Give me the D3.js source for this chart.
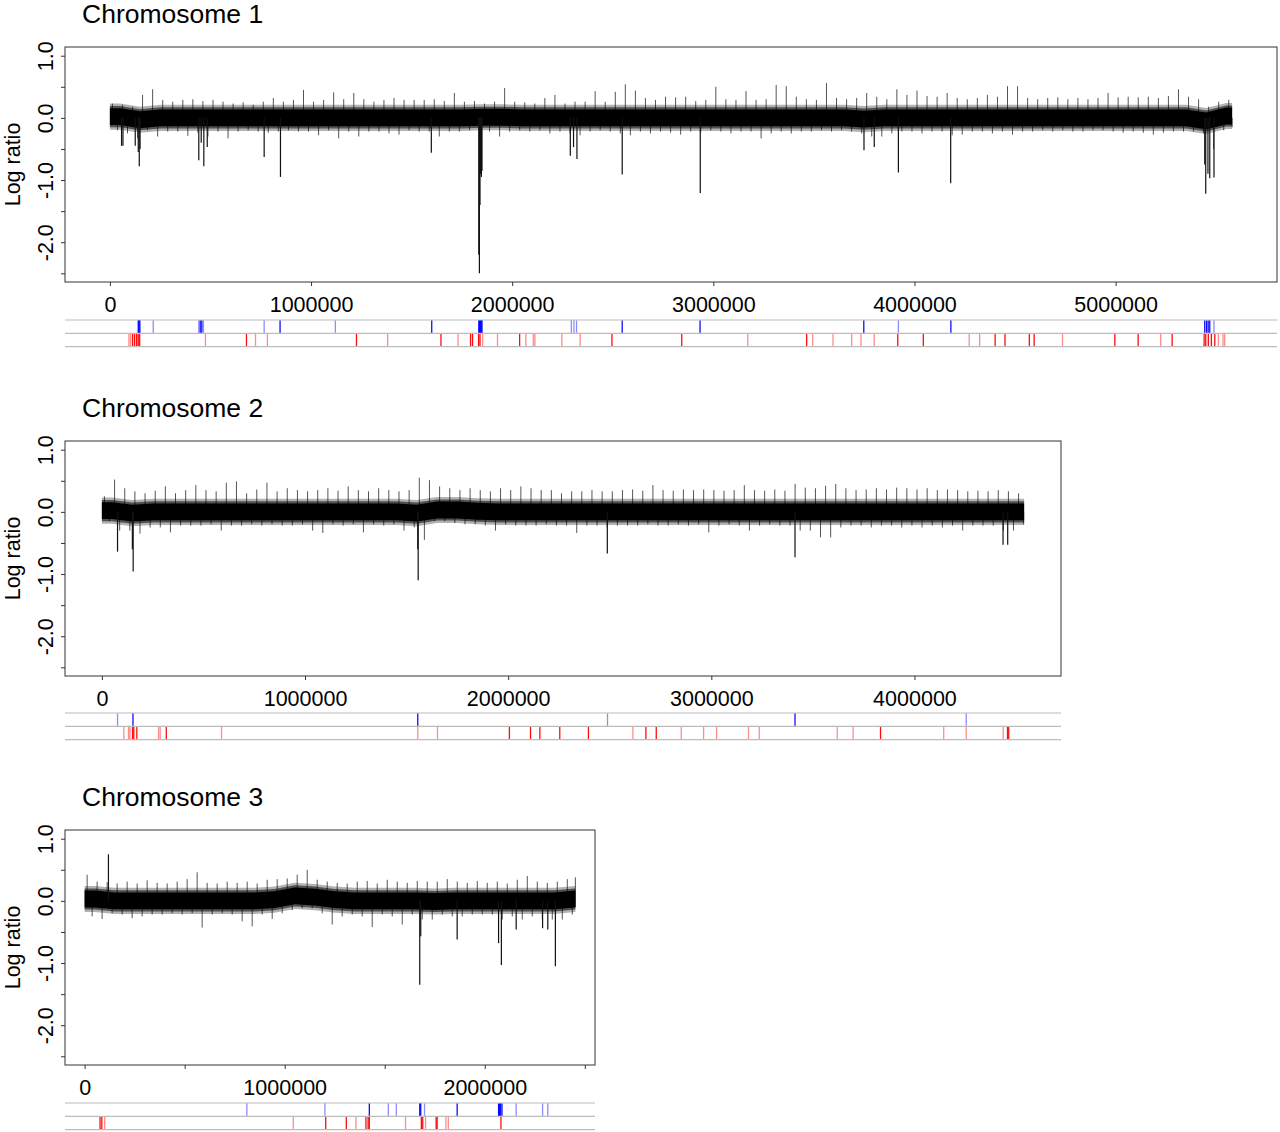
<!DOCTYPE html>
<html><head><meta charset="utf-8">
<script src="https://cdn.jsdelivr.net/npm/d3@7"></script>
<style>
body{margin:0;background:#fff}
text{font-family:"Liberation Sans",Arial,Helvetica,sans-serif}
</style>
</head><body>
<svg id="c" width="1280" height="1132"></svg>
<script>
// ---------------- DATA ----------------
const chromNames = ["Chromosome 1", "Chromosome 2", "Chromosome 3"];
const chromLengths = [5579133, 4539804, 2452883];
const binSize = 50000;      // bp per envelope bin
const levelBin = 100000;    // bp per baseline bin

const yTicks = [-2.5, -2, -1.5, -1, -0.5, 0, 0.5, 1];
const yTickLabels = {"-2": "-2.0", "-1": "-1.0", "0": "0.0", "1": "1.0"};
const chr1XTicks = [0, 1000000, 2000000, 3000000, 4000000, 5000000];
const chr2XTicks = [0, 1000000, 2000000, 3000000, 4000000];
const chr3XTicks = [0, 500000, 1000000, 1500000, 2000000, 2500000];

// upper / lower extremes of the log ratio per 50 kb bin
const chr1High = [0.23,0.21,0.18,0.37,0.46,0.29,0.26,0.29,0.30,0.27,
  0.29,0.26,0.23,0.25,0.21,0.26,0.32,0.26,0.29,0.45,
  0.26,0.29,0.41,0.30,0.40,0.30,0.26,0.29,0.32,0.29,
  0.29,0.29,0.30,0.27,0.40,0.26,0.27,0.23,0.26,0.48,
  0.26,0.25,0.23,0.32,0.37,0.23,0.26,0.26,0.43,0.26,
  0.42,0.54,0.44,0.32,0.29,0.34,0.33,0.34,0.27,0.29,
  0.50,0.30,0.29,0.43,0.29,0.30,0.53,0.51,0.34,0.30,
  0.29,0.56,0.32,0.30,0.32,0.40,0.34,0.30,0.46,0.37,
  0.44,0.35,0.34,0.40,0.32,0.30,0.32,0.37,0.34,0.51,
  0.51,0.32,0.30,0.32,0.33,0.30,0.32,0.30,0.32,0.40,
  0.33,0.34,0.33,0.34,0.32,0.35,0.46,0.34,0.30,0.18,
  0.26,0.29];
const chr1Low = [-0.20,-0.25,-0.33,-0.20,-0.30,-0.22,-0.22,-0.29,-0.24,-0.30,
  -0.22,-0.33,-0.22,-0.20,-0.22,-0.24,-0.22,-0.20,-0.22,-0.22,
  -0.28,-0.20,-0.33,-0.22,-0.30,-0.22,-0.22,-0.25,-0.27,-0.20,
  -0.22,-0.22,-0.30,-0.22,-0.22,-0.20,-0.25,-0.22,-0.30,-0.22,
  -0.20,-0.22,-0.20,-0.25,-0.22,-0.25,-0.28,-0.22,-0.20,-0.22,
  -0.25,-0.28,-0.22,-0.25,-0.22,-0.24,-0.27,-0.22,-0.24,-0.20,
  -0.22,-0.25,-0.22,-0.22,-0.33,-0.25,-0.22,-0.25,-0.22,-0.22,
  -0.20,-0.22,-0.20,-0.22,-0.25,-0.30,-0.30,-0.25,-0.22,-0.22,
  -0.25,-0.22,-0.22,-0.28,-0.27,-0.22,-0.22,-0.25,-0.22,-0.27,
  -0.22,-0.22,-0.20,-0.22,-0.20,-0.22,-0.22,-0.20,-0.20,-0.22,
  -0.24,-0.22,-0.24,-0.27,-0.24,-0.22,-0.22,-0.22,-0.25,-0.50,
  -0.20,-0.15];
const chr2High = [0.25,0.52,0.38,0.33,0.30,0.34,0.41,0.30,0.35,0.43,
  0.35,0.33,0.47,0.49,0.30,0.36,0.47,0.33,0.38,0.35,
  0.33,0.35,0.38,0.34,0.41,0.35,0.33,0.38,0.35,0.33,
  0.35,0.55,0.51,0.41,0.38,0.35,0.38,0.35,0.33,0.38,
  0.35,0.41,0.38,0.35,0.35,0.30,0.33,0.33,0.35,0.33,
  0.33,0.35,0.36,0.34,0.43,0.35,0.34,0.36,0.35,0.36,
  0.35,0.34,0.35,0.43,0.35,0.34,0.36,0.34,0.45,0.39,
  0.38,0.42,0.45,0.38,0.35,0.36,0.38,0.36,0.39,0.38,
  0.36,0.38,0.35,0.36,0.35,0.33,0.34,0.33,0.35,0.33,
  0.30];
const chr2Low = [-0.15,-0.30,-0.30,-0.35,-0.25,-0.25,-0.33,-0.22,-0.22,-0.22,
  -0.20,-0.30,-0.22,-0.22,-0.20,-0.22,-0.20,-0.22,-0.22,-0.20,
  -0.30,-0.34,-0.20,-0.22,-0.20,-0.33,-0.20,-0.22,-0.20,-0.30,
  -0.25,-0.45,-0.15,-0.15,-0.18,-0.20,-0.20,-0.22,-0.30,-0.20,
  -0.22,-0.22,-0.22,-0.20,-0.22,-0.22,-0.34,-0.22,-0.22,-0.25,
  -0.22,-0.22,-0.22,-0.20,-0.22,-0.22,-0.20,-0.22,-0.20,-0.33,
  -0.22,-0.20,-0.22,-0.30,-0.22,-0.20,-0.22,-0.22,-0.30,-0.30,
  -0.41,-0.41,-0.25,-0.22,-0.22,-0.25,-0.22,-0.22,-0.25,-0.22,
  -0.25,-0.22,-0.25,-0.22,-0.30,-0.22,-0.22,-0.22,-0.30,-0.30,
  -0.20];
const chr3High = [0.42,0.31,0.30,0.28,0.31,0.28,0.33,0.29,0.28,0.31,
  0.35,0.46,0.29,0.28,0.31,0.29,0.31,0.28,0.34,0.35,
  0.36,0.42,0.50,0.34,0.31,0.29,0.28,0.31,0.32,0.28,
  0.34,0.31,0.29,0.32,0.31,0.31,0.35,0.31,0.29,0.32,
  0.29,0.31,0.28,0.34,0.40,0.31,0.29,0.31,0.35,0.38];
const chr3Low = [-0.25,-0.29,-0.20,-0.22,-0.28,-0.25,-0.22,-0.22,-0.20,-0.22,
  -0.20,-0.43,-0.22,-0.20,-0.22,-0.33,-0.41,-0.22,-0.29,-0.20,
  -0.15,-0.12,-0.12,-0.20,-0.38,-0.25,-0.22,-0.25,-0.42,-0.22,
  -0.25,-0.38,-0.22,-0.30,-0.30,-0.22,-0.25,-0.25,-0.22,-0.22,
  -0.22,-0.30,-0.25,-0.30,-0.25,-0.30,-0.30,-0.30,-0.22,-0.10];

// baseline (median) log ratio per 100 kb
const chr1Level = [0.02,-0.03,0,0,0,0,0,0,0,0, 0,0,0,0,0,0,0,0,0.01,0.01,
  0,0,0,0,0,0,0,0,0,0, 0,0,0,0,0,0,0,-0.02,0,0,
  0,0,0,0,0,0,0,0,0,0, 0,0,0,0,-0.05,0.03];
const chr2Level = [0.02,-0.02,0,0,0,0,0,0,0,0, 0,0,0,0,0,-0.02,0.03,0.03,0.01,0,
  0,0,0,0,0,0,0,0,0,0, 0,0,0,0,0,0,0,0,0,0, 0,0,0,0,0,0];
const chr3Level = [0.03,0,0,0,0,0,0,0,0,0.02, 0.08,0.06,0.02,0,0,0,0,-0.01,0,0, 0,0,0,0,0.03];

// isolated probes outside the noise band [position bp, log ratio]
const chr1Spikes = [[58000,-0.45],[65000,-0.45],[126000,-0.45],[141000,-0.55],[146000,-0.78],[150000,-0.5],
  [442000,-0.68],[454000,-0.4],[467000,-0.78],[484000,-0.47],[767000,-0.63],[848000,-0.95],[1598000,-0.56],
  [1834000,-2.2],[1837000,-2.5],[1840000,-1.4],[1843000,-0.9],[1847000,-0.95],[1850000,-0.85],
  [2289000,-0.61],[2305000,-0.47],[2322000,-0.66],[2547000,-0.91],[2935000,-1.21],[3749000,-0.52],
  [3800000,-0.47],[3920000,-0.88],[4180000,-1.05],[5443000,-0.75],[5448000,-1.22],[5459000,-0.9],
  [5468000,-0.97],[5489000,-0.96]];
const chr2Spikes = [[77000,-0.64],[150000,-0.6],[154000,-0.96],[1555000,-0.6],[1557000,-1.10],
  [2488000,-0.67],[3412000,-0.73],[4436000,-0.53],[4459000,-0.53]];
const chr3Spikes = [[119000,0.75],[1675000,-1.35],[1680000,-0.57],[1862000,-0.62],[2069000,-0.68],
  [2083000,-1.03],[2157000,-0.46],[2289000,-0.44],[2315000,-0.46],[2353000,-1.05]];

// called segments: [position bp, strength 1 = weak, 2 = strong]
const chr1Blue = [[141000,2],[145000,2],[149000,2],[215500,1],[442000,1],[449000,2],[457000,2],[465000,1],
  [767000,1],[846000,2],[1121000,1],[1600000,2],[1834000,2],[1838000,2],[1842000,2],[1846000,2],[1850000,2],
  [2294000,1],[2307000,1],[2320000,1],[2547000,2],[2934000,2],[3748000,2],[3920000,1],[4181000,2],
  [5443000,2],[5452000,2],[5460000,2],[5468000,2],[5489000,1]];
const chr1Red = [[94600,1],[103000,1],[113000,2],[123000,2],[133000,2],[141000,2],[148000,2],[475000,1],
  [679000,2],[724000,1],[783000,1],[1226000,2],[1381000,1],[1646000,2],[1731000,1],[1793000,2],[1803000,2],
  [1833000,2],[1840000,2],[1853000,1],[1927000,1],[2037000,2],[2068000,1],[2105000,1],[2113000,1],
  [2247000,1],[2338000,1],[2496000,2],[2843000,2],[3171000,1],[3464000,2],[3494000,1],[3595000,1],
  [3688000,1],[3734000,1],[3800000,1],[3917000,2],[4044000,2],[4272000,1],[4324000,1],[4401000,2],
  [4450000,2],[4571000,2],[4595000,2],[4736000,1],[4996000,2],[5112000,2],[5224000,1],[5281000,2],
  [5440000,2],[5448000,2],[5461000,2],[5476000,2],[5493000,2],[5511000,1],[5534000,1],[5542000,1]];
const chr2Blue = [[77000,1],[153000,2],[1555000,2],[2489000,1],[3412000,2],[4255000,1]];
const chr2Red = [[108000,1],[131000,1],[138000,1],[151000,2],[157000,2],[172000,2],[279000,1],[287000,1],
  [317000,2],[589000,1],[1555000,1],[1652000,1],[2006000,2],[2110000,2],[2156000,2],[2254000,2],
  [2395000,2],[2614000,1],[2678000,2],[2729000,2],[2852000,1],[2962000,1],[3026000,1],[3183000,1],
  [3236000,1],[3620000,1],[3698000,1],[3833000,2],[4144000,1],[4255000,1],[4437000,1],[4458000,2],[4464000,2]];
const chr3Blue = [[811000,1],[1201000,1],[1423000,2],[1518000,1],[1558000,1],[1675000,2],[1680000,2],
  [1699000,1],[1862000,2],[2069000,2],[2074000,2],[2079000,2],[2086000,2],[2157000,1],[2289000,1],[2315000,1]];
const chr3Red = [[77000,2],[86000,2],[100000,1],[1043000,1],[1205000,2],[1308000,2],[1356000,1],
  [1406000,2],[1417000,2],[1423000,2],[1604000,1],[1683000,2],[1690000,2],[1704000,1],[1757000,2],
  [1762000,2],[1806000,1],[1818000,1],[2081000,2]];

// ---------------- DRAWING ----------------
const chroms = [
  {high: chr1High, low: chr1Low, level: chr1Level, spikes: chr1Spikes, blue: chr1Blue, red: chr1Red, xTicks: chr1XTicks},
  {high: chr2High, low: chr2Low, level: chr2Level, spikes: chr2Spikes, blue: chr2Blue, red: chr2Red, xTicks: chr2XTicks},
  {high: chr3High, low: chr3Low, level: chr3Level, spikes: chr3Spikes, blue: chr3Blue, red: chr3Red, xTicks: chr3XTicks}
];
const layout = [
  {left: 65, right: 1277, top: 47, bottom: 282, track: 320},
  {left: 65, right: 1061, top: 441, bottom: 676, track: 713},
  {left: 65, right: 595, top: 830, bottom: 1065, track: 1103}
];
const svg = d3.select("#c");
const fmt = d3.format("d");
const FONT = '"Liberation Sans",Arial,sans-serif';

chroms.forEach((d, k) => {
  const P = layout[k];
  const L = chromLengths[k];
  const x = d3.scaleLinear().domain([-0.04 * L, 1.04 * L]).range([P.left, P.right]);
  const y = d3.scaleLinear().domain([-2.64, 1.14]).range([P.bottom, P.top]);
  const g = svg.append("g");

  g.append("clipPath").attr("id", "clip" + k).append("rect")
    .attr("x", P.left).attr("y", P.top).attr("width", P.right - P.left).attr("height", P.bottom - P.top);
  const plot = g.append("g").attr("clip-path", `url(#clip${k})`);

  // whiskers: bin maxima and minima
  plot.selectAll("line.hi").data(d.high).join("line").attr("class", "hi")
    .attr("x1", (h, i) => x(Math.min(L, i * binSize + binSize * 0.25)))
    .attr("x2", (h, i) => x(Math.min(L, i * binSize + binSize * 0.25)))
    .attr("y1", y(0)).attr("y2", h => y(h))
    .attr("stroke", "#555").attr("stroke-width", 1);
  plot.selectAll("line.lo").data(d.low).join("line").attr("class", "lo")
    .attr("x1", (v, i) => x(Math.min(L, i * binSize + binSize * 0.75)))
    .attr("x2", (v, i) => x(Math.min(L, i * binSize + binSize * 0.75)))
    .attr("y1", y(0)).attr("y2", v => y(v))
    .attr("stroke", "#555").attr("stroke-width", 1);

  // dense band of the trace (fuzzy edge + solid core)
  const lev = d.level;
  const levPts = [[0, lev[0]]].concat(lev.map((v, i) => [Math.min(L, (i + 0.5) * levelBin), v]), [[L, lev[lev.length - 1]]]);
  const band = half => d3.area().x(p => x(p[0])).y0(p => y(p[1] - half)).y1(p => y(p[1] + half));
  plot.append("path").datum(levPts).attr("d", band(0.21)).attr("fill", "#000").attr("fill-opacity", 0.3);
  plot.append("path").datum(levPts).attr("d", band(0.17)).attr("fill", "#000").attr("fill-opacity", 0.55);
  plot.append("path").datum(levPts).attr("d", band(0.135)).attr("fill", "#000");

  // isolated probes
  plot.selectAll("line.sp").data(d.spikes).join("line").attr("class", "sp")
    .attr("x1", p => x(p[0])).attr("x2", p => x(p[0]))
    .attr("y1", y(0)).attr("y2", p => y(p[1]))
    .attr("stroke", "#111").attr("stroke-width", 1.2);

  // box
  g.append("rect").attr("x", P.left).attr("y", P.top)
    .attr("width", P.right - P.left).attr("height", P.bottom - P.top)
    .attr("fill", "none").attr("stroke", "#333").attr("stroke-width", 1);

  // x axis
  const xa = g.append("g").attr("transform", `translate(0,${P.bottom})`)
    .call(d3.axisBottom(x).tickValues(d.xTicks).tickSize(4).tickPadding(11)
      .tickFormat(v => v % 1000000 === 0 ? fmt(v) : ""));
  xa.select(".domain").remove();
  xa.selectAll(".tick line").attr("stroke", "#333");
  xa.selectAll("text").attr("font-size", 21.5).attr("fill", "#000").attr("font-family", FONT);

  // y axis
  const ya = g.append("g").attr("transform", `translate(${P.left},0)`)
    .call(d3.axisLeft(y).tickValues(yTicks).tickSize(4)
      .tickFormat(v => yTickLabels[String(v)] || ""));
  ya.select(".domain").remove();
  ya.selectAll(".tick line").attr("stroke", "#333");
  ya.selectAll("text").attr("font-size", 21.5).attr("fill", "#000").attr("font-family", FONT)
    .attr("transform", "rotate(-90)").attr("x", 0).attr("y", -12).attr("dy", 0)
    .attr("text-anchor", "middle");

  // y label
  g.append("text").attr("transform", `translate(20,${(P.top + P.bottom) / 2}) rotate(-90)`)
    .attr("text-anchor", "middle").attr("font-size", 21.5).text("Log ratio");

  // title
  g.append("text").attr("x", 82).attr("y", P.top - 24).attr("font-size", 26.5).text(chromNames[k]);

  // tracks
  const tH = 13.3;
  const tg = g.append("g");
  [0, 1, 2].forEach(j => {
    tg.append("line").attr("x1", P.left).attr("x2", P.right)
      .attr("y1", P.track + j * tH).attr("y2", P.track + j * tH)
      .attr("stroke", "#bcbcbc").attr("stroke-width", 1.2);
  });
  const op = w => w === 2 ? 0.95 : 0.45;
  tg.selectAll("line.b").data(d.blue).join("line").attr("class", "b")
    .attr("x1", m => x(m[0])).attr("x2", m => x(m[0]))
    .attr("y1", P.track + 0.6).attr("y2", P.track + tH - 0.6)
    .attr("stroke", "#0000ff").attr("stroke-opacity", m => op(m[1])).attr("stroke-width", 1.3);
  tg.selectAll("line.r").data(d.red).join("line").attr("class", "r")
    .attr("x1", m => x(m[0])).attr("x2", m => x(m[0]))
    .attr("y1", P.track + tH + 0.6).attr("y2", P.track + 2 * tH - 0.6)
    .attr("stroke", "#ff0000").attr("stroke-opacity", m => op(m[1])).attr("stroke-width", 1.3);
});
</script>
</body></html>
